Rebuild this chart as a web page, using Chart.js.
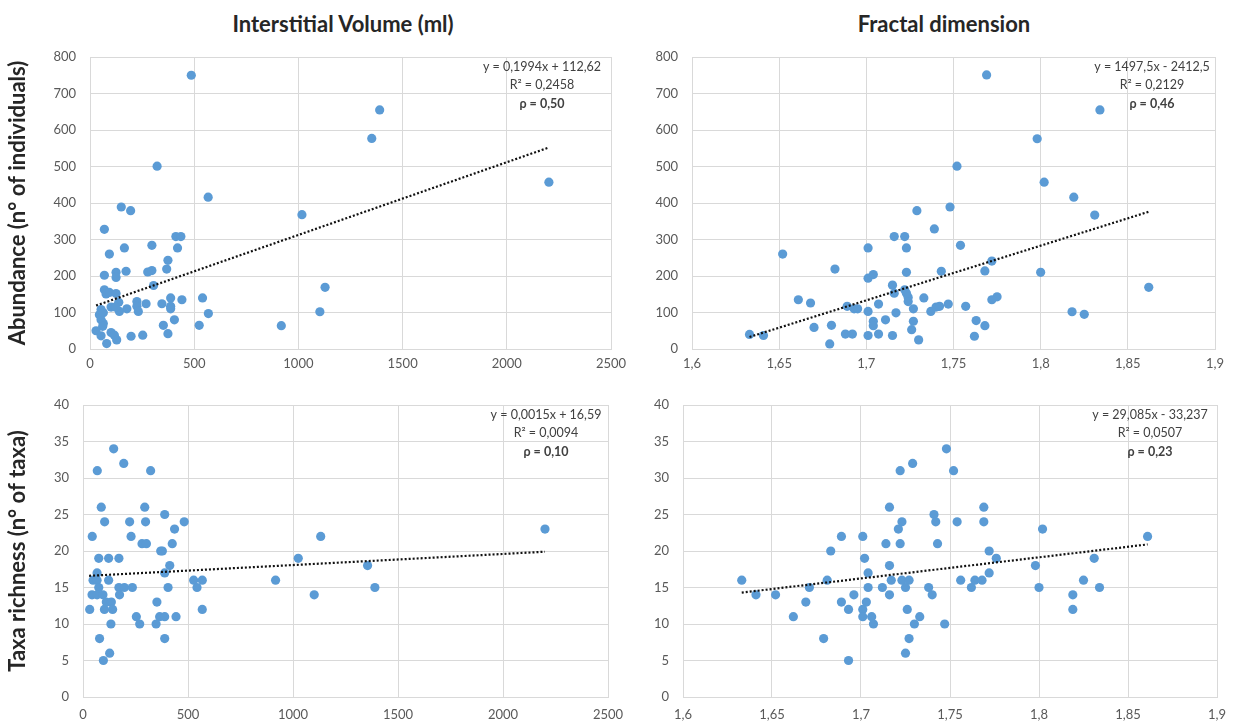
<!DOCTYPE html>
<html><head><meta charset="utf-8">
<script src="https://cdn.jsdelivr.net/npm/chart.js@4.4.1/dist/chart.umd.min.js"></script>
<style>
html,body{margin:0;padding:0;background:#fff;width:1237px;height:727px;overflow:hidden}
canvas{position:absolute;left:0;top:0}
.title{position:absolute;font-family:Lato,sans-serif;font-weight:bold;font-size:22px;color:#262626;transform:translate(-50%,-50%);white-space:nowrap}
</style></head><body>
<div class="title" style="left:343px;top:23px">Interstitial Volume (ml)</div>
<div class="title" style="left:944px;top:23px">Fractal dimension</div>
<canvas id="c1" width="1237" height="727"></canvas>
<canvas id="c2" width="1237" height="727"></canvas>
<canvas id="c3" width="1237" height="727"></canvas>
<canvas id="c4" width="1237" height="727"></canvas>
<script>
// ---- data: top-left (volume vs abundance)
const volumeA = [486,1390,1352,322,2202,567,150,195,1017,69,412,436,297,420,165,93,374,368,277,297,173,69,125,125,305,1128,69,77,93,125,540,441,387,387,387,345,269,225,225,232,177,141,138,101,121,53,45,53,64,61,29,53,80,101,117,128,197,253,352,405,374,524,568,918,1103,64];
const abundanceA = [750,655,577,501,457,416,389,379,368,328,308,308,284,277,277,260,243,219,211,215,213,202,210,196,174,169,162,151,155,152,140,135,140,117,110,124,124,130,117,103,110,103,128,115,115,108,94,80,70,62,50,36,15,45,38,25,35,38,65,80,42,65,97,64,102,99];
// ---- top-right (fractal dimension vs abundance)
const fractalA = [1.769,1.834,1.798,1.752,1.802,1.819,1.831,1.729,1.748,1.739,1.652,1.716,1.722,1.723,1.701,1.754,1.772,1.768,1.800,1.743,1.723,1.682,1.701,1.704,1.715,1.862,1.716,1.722,1.723,1.724,1.724,1.733,1.775,1.772,1.661,1.668,1.689,1.693,1.695,1.707,1.701,1.717,1.727,1.737,1.740,1.742,1.747,1.757,1.818,1.825,1.704,1.704,1.711,1.727,1.726,1.763,1.768,1.670,1.680,1.633,1.641,1.688,1.692,1.701,1.707,1.715,1.730,1.762,1.679];
const abundanceB = [751,655,576,501,457,416,367,379,389,329,260,308,308,277,277,284,241,214,210,213,210,219,194,204,175,169,153,162,153,142,130,140,143,135,135,126,117,110,110,123,103,99,110,103,115,117,123,117,102,95,76,64,80,76,53,78,64,59,65,40,37,41,41,37,41,37,25,35,14];
// ---- bottom-left (volume vs taxa richness)
const volumeB = [146,194,68,322,87,294,389,103,222,298,482,436,44,229,1132,281,302,425,370,378,75,122,171,1025,413,389,67,48,67,122,527,568,917,75,171,197,235,405,543,43,67,95,174,1101,111,135,352,32,102,141,568,254,365,389,443,133,270,348,79,389,127,97,1355,1390,2200];
const richnessA = [34,32,31,31,26,26,25,24,24,24,24,23,22,22,22,21,21,21,20,20,19,19,19,19,18,17,17,16,16,16,16,16,16,15,15,15,15,15,15,14,14,14,14,14,13,13,13,12,12,12,12,11,11,11,11,10,10,10,8,8,6,5,18,15,23];
// ---- bottom-right (fractal dimension vs taxa richness)
const fractalB = [1.633,1.641,1.652,1.662,1.669,1.671,1.679,1.681,1.683,1.689,1.689,1.693,1.693,1.696,1.701,1.702,1.704,1.704,1.703,1.701,1.701,1.706,1.707,1.712,1.714,1.716,1.716,1.716,1.717,1.721,1.722,1.723,1.722,1.723,1.727,1.725,1.726,1.729,1.730,1.733,1.727,1.725,1.738,1.740,1.741,1.742,1.743,1.747,1.748,1.752,1.754,1.756,1.762,1.764,1.768,1.769,1.769,1.772,1.776,1.772,1.798,1.800,1.802,1.819,1.819,1.825,1.831,1.834,1.861];
const richnessB = [16,14,14,11,13,15,8,16,20,22,13,12,5,14,22,19,17,15,13,12,11,11,10,15,21,26,18,14,16,23,31,24,21,16,16,15,12,32,10,11,8,6,15,14,25,24,21,10,34,31,24,16,15,16,16,26,24,20,19,17,18,15,23,14,12,16,19,15,22];
// ---- trend line end points
const trendAx = [29,2202], trendAy = [119,552];
const trendBx = [1.633,1.862], trendBy = [33,376];
const trendCx = [29,2200], trendCy = [16.6,19.9];
const trendDx = [1.633,1.861], trendDy = [14.3,20.9];
// ---- equation labels
const eqA = ['y = 0,1994x + 112,62','R² = 0,2458','ρ = 0,50'];
const eqB = ['y = 1497,5x - 2412,5','R² = 0,2129','ρ = 0,46'];
const eqC = ['y = 0,0015x + 16,59','R² = 0,0094','ρ = 0,10'];
const eqD = ['y = 29,085x - 33,237','R² = 0,0507','ρ = 0,23'];

const FONT = 'Lato, sans-serif';
const eqPlugin = {
  id:'eqn',
  afterDatasetsDraw(chart, args, opts){
    const ctx = chart.ctx, a = chart.chartArea;
    const cx = a.right - opts.offset;
    ctx.save();
    ctx.fillStyle = '#404040';
    ctx.textAlign = 'center';
    ctx.textBaseline = 'middle';
    const dy = [10,28,47];
    opts.lines.forEach((t,i)=>{
      ctx.font = (i===2?'bold ':'') + '12.5px ' + FONT;
      ctx.fillText(t, cx, a.top + dy[i]);
    });
    ctx.restore();
  }
};

function pts(xs, ys){ return xs.map((x,i)=>({x:x, y:ys[i]})); }
function fmt(v){ return (Math.round(v*100)/100).toString().replace('.', ','); }

function makeChart(id, xs, ys, tx, ty, o){
  return new Chart(document.getElementById(id), {
    type:'scatter',
    data:{datasets:[
      {data:pts(tx,ty), showLine:true, borderColor:'#111', borderWidth:2.2, borderDash:[2,2], pointRadius:0, fill:false},
      {data:pts(xs,ys), pointRadius:4.6, pointBackgroundColor:'#5b9bd5', pointBorderWidth:0, showLine:false}
    ]},
    options:{
      responsive:false, animation:false, events:[], devicePixelRatio:1,
      layout:{padding:o.pad},
      plugins:{legend:{display:false}, tooltip:{enabled:false}, eqn:{lines:o.eq, offset:o.eqOff}},
      scales:{
        x:{type:'linear', min:o.xmin, max:o.xmax,
           ticks:{stepSize:o.xstep, color:'#595959', font:{family:FONT,size:13}, padding:o.xpad, callback:fmt, maxRotation:0, autoSkip:false},
           grid:{color:'#d9d9d9', drawTicks:false}, border:{color:'#d9d9d9'},
           afterFit(s){ s.height = 24; }},
        y:{type:'linear', min:0, max:o.ymax,
           ticks:{stepSize:o.ystep, color:'#595959', font:{family:FONT,size:13}, padding:14},
           grid:{color:'#d9d9d9', drawTicks:false}, border:{color:'#d9d9d9'},
           title:{display:!!o.ytitle, text:o.ytitle||'', color:'#262626', font:{family:FONT,size:22,weight:'bold'}, padding:{top:5,bottom:0}},
           afterFit(s){ s.width = o.yw; }}
      }
    },
    plugins:[eqPlugin]
  });
}

makeChart('c1', volumeA, abundanceA, trendAx, trendAy,
  {pad:{left:0,top:57,right:626,bottom:727-349-24}, yw:90, xmin:0, xmax:2500, xstep:500, ymax:800, ystep:100, xpad:7,
   ytitle:'Abundance (n° of individuals)', eq:eqA, eqOff:69});
makeChart('c2', fractalA, abundanceB, trendBx, trendBy,
  {pad:{left:642,top:57,right:22,bottom:727-349-24}, yw:50, xmin:1.6, xmax:1.9, xstep:0.05, ymax:800, ystep:100, xpad:7,
   eq:eqB, eqOff:63});
makeChart('c3', volumeB, richnessA, trendCx, trendCy,
  {pad:{left:0,top:405,right:629,bottom:727-697-24}, yw:83, xmin:0, xmax:2500, xstep:500, ymax:40, ystep:5, xpad:10,
   ytitle:'Taxa richness (n° of taxa)', eq:eqC, eqOff:62});
makeChart('c4', fractalB, richnessB, trendDx, trendDy,
  {pad:{left:643,top:405,right:20,bottom:727-697-24}, yw:40, xmin:1.6, xmax:1.9, xstep:0.05, ymax:40, ystep:5, xpad:10,
   eq:eqD, eqOff:67});
</script>
</body></html>
